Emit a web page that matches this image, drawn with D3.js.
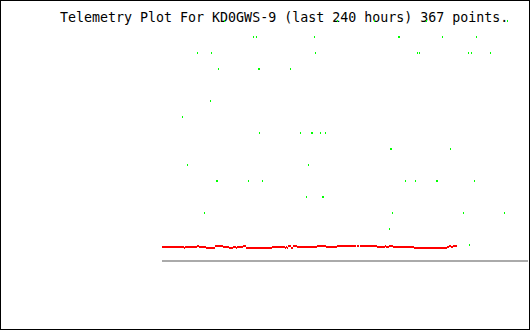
<!DOCTYPE html>
<html>
<head>
<meta charset="utf-8">
<script src="https://cdn.jsdelivr.net/npm/d3@7"></script>
<style>
  html, body { margin: 0; padding: 0; background: #fff; }
  svg { display: block; }
  .title { font-family: "DejaVu Sans Mono", monospace; font-size: 13.3px; fill: #000; }
</style>
</head>
<body>
<div id="chart"></div>
<script>
/* global d3 */

// title
const TITLE = 'Telemetry Plot For KD0GWS-9 (last 240 hours) 367 points.';
const HOURS = 240;

// red channel: step starts (hours into window) and value held until next step (null = gap)
const redHours = [0, 14.4, 15.1, 23.0, 24.3, 28.9, 34.8, 40.0, 43.9, 46.6, 48.5, 49.2,
  53.1, 55.1, 72.1, 80.7, 81.3, 82.0, 82.6, 84.6, 85.9, 88.5, 101.6, 107.5, 114.8,
  127.2, 127.9, 129.2, 129.8, 141.0, 146.2, 146.9, 148.9, 151.5, 165.2, 186.9, 188.2,
  189.5, 190.8, 193.4];
const redValues = [0.875, 0.8125, 0.875, 0.9375, 0.875, 0.8125, 0.9375, 0.875, 0.8125,
  0.875, 0.8125, 0.875, 0.9375, 0.8125, 0.875, 0.8125, 0.875, 0.8125, 0.9375, 0.8125,
  0.9375, 0.875, 0.9375, 0.875, 0.9375, null, 0.9375, null, 0.9375, 0.875, 0.9375,
  0.875, 0.9375, 0.875, 0.8125, 0.875, 0.9375, 0.875, 0.9375, null];

// green channel: sample times (hours) and levels
const greenHours = [40.7, 114.8, 139.0, 173.1, 226.2,
  59.7, 61.6, 99.7, 154.8, 155.4, 183.6, 205.9,
  23.0, 32.1, 100.3, 167.2, 168.5, 200.7, 202.6, 215.1,
  36.7, 63.0, 63.6, 83.9,
  31.5,
  13.1,
  63.6, 90.5, 97.7, 98.4, 103.6, 106.9,
  149.5, 150.2, 188.9,
  16.4, 95.7,
  35.4, 36.1, 56.4, 65.6, 159.3, 165.9, 179.7, 180.3, 204.6,
  94.4, 104.9, 105.6,
  27.5, 150.8, 197.4, 224.3,
  148.9,
  201.3];
const greenValues = [15, 15, 15, 15, 15,
  14, 14, 14, 14, 14, 14, 14,
  13, 13, 13, 13, 13, 13, 13, 13,
  12, 12, 12, 12,
  10,
  9,
  8, 8, 8, 8, 8, 8,
  7, 7, 7,
  6, 6,
  5, 5, 5, 5, 5, 5, 5, 5, 5,
  4, 4, 4,
  3, 3, 3, 3,
  2,
  1];

const WIDTH = 530;
const HEIGHT = 330;
const PLOT_LEFT = 162;
const PLOT_RIGHT = 528;
const PLOT_TOP = 20;
const PLOT_BOTTOM = 260;

const scaleX = d3.scaleLinear().domain([0, HOURS]).range([PLOT_LEFT, PLOT_RIGHT]);
const scaleY = d3.scaleLinear().domain([0, 15]).range([PLOT_BOTTOM, PLOT_TOP]);

const $svg = d3.select('#chart')
  .append('svg')
  .attr('width', WIDTH)
  .attr('height', HEIGHT)
  .attr('shape-rendering', 'crispEdges');

// frame
$svg.append('rect')
  .attr('x', 0.5)
  .attr('y', 0.5)
  .attr('width', WIDTH - 1)
  .attr('height', HEIGHT - 1)
  .attr('fill', '#fff')
  .attr('stroke', '#000');

$svg.append('text')
  .attr('class', 'title')
  .attr('x', 60)
  .attr('y', 22)
  .text(TITLE);

// zero line
$svg.append('rect')
  .attr('class', 'baseline')
  .attr('x', scaleX.range()[0])
  .attr('y', Math.round(scaleY(0)))
  .attr('width', scaleX.range()[1] - scaleX.range()[0])
  .attr('height', 2)
  .attr('fill', '#aaa');

// red steps
const redSteps = redHours.slice(0, -1).map((h, i) => ({
  x0: h, x1: redHours[i + 1], v: redValues[i]
})).filter(d => d.v !== null);

$svg.append('g')
  .attr('class', 'red')
  .selectAll('rect')
  .data(redSteps)
  .join('rect')
  .attr('x', d => Math.round(scaleX(d.x0)))
  .attr('width', d => Math.round(scaleX(d.x1)) - Math.round(scaleX(d.x0)))
  .attr('y', d => Math.round(scaleY(d.v)))
  .attr('height', 2)
  .attr('fill', '#f00');

// green samples
const greenData = greenHours.map((h, i) => ({ h, v: greenValues[i] }));

$svg.append('g')
  .attr('class', 'green')
  .selectAll('rect')
  .data(greenData)
  .join('rect')
  .attr('x', d => Math.round(scaleX(d.h)))
  .attr('y', d => Math.round(scaleY(d.v)))
  .attr('width', 1)
  .attr('height', 2)
  .attr('fill', '#0f0');
</script>
</body>
</html>
